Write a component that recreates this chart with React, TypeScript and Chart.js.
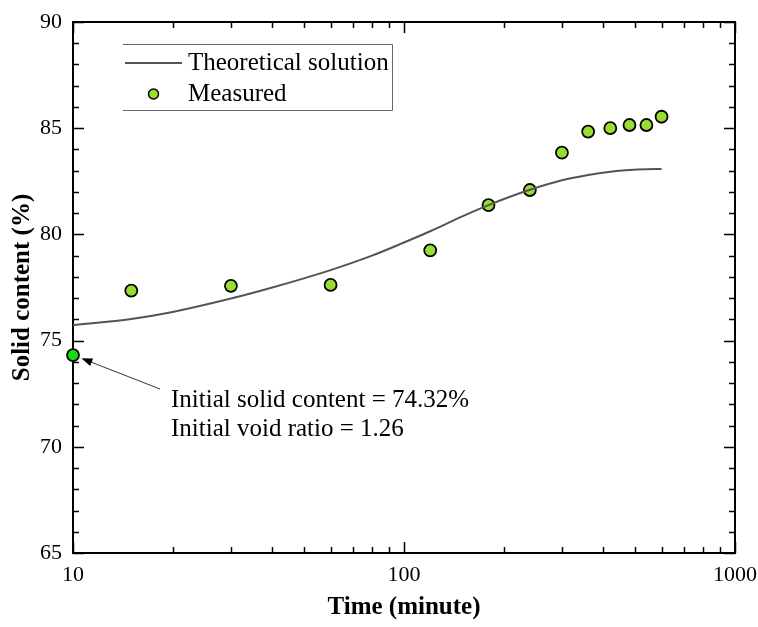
import React, { useEffect, useRef } from 'react';
import { Chart, registerables } from 'chart.js';

Chart.register(...registerables);

// ---- data ----
const curveTime = [10, 15, 20, 30, 40, 60, 80, 100, 120, 150, 180, 240, 300, 360, 420, 480, 540, 600];
const curveSolid = [75.73, 76.02, 76.35, 76.98, 77.5, 78.32, 79.0, 79.62, 80.15, 80.85, 81.38, 82.1, 82.55, 82.8, 82.95, 83.03, 83.07, 83.08];
const measuredTime = [15, 30, 60, 120, 180, 240, 300, 360, 420, 480, 540, 600];
const measuredSolid = [77.35, 77.58, 77.62, 79.25, 81.38, 82.09, 83.85, 84.84, 85.0, 85.15, 85.15, 85.54];
const initialTime = [10];
const initialSolid = [74.32];
const xMajorTicks = [10, 100, 1000];
const xMinorTicks = [20, 30, 40, 50, 60, 70, 80, 90, 200, 300, 400, 500, 600, 700, 800, 900];
const yMinorStep = 1;
const legendLabels = ['Theoretical solution', 'Measured'];
const annotationLines = ['Initial solid content = 74.32%', 'Initial void ratio = 1.26'];
const xTitle = 'Time (minute)';
const yTitle = 'Solid content (%)';

const FONT = '"Liberation Serif", "Times New Roman", serif';
const LINE_COLOR = '#555555';
const MEASURED_COLOR = '#99dd33';
const INITIAL_COLOR = '#11dd11';

const decorPlugin = {
  id: 'decor',
  beforeDatasetsDraw(chart: any) {
    const { ctx, chartArea: ca, scales } = chart;
    const xs = scales.x;
    const ys = scales.y;
    ctx.save();
    ctx.strokeStyle = '#000';
    ctx.lineWidth = 1.5;
    // y ticks
    for (let v = ys.min; v <= ys.max + 1e-9; v += yMinorStep) {
      const y = Math.round(ys.getPixelForValue(v)) + 0.5;
      const major = Math.abs(v % 5) < 1e-9;
      const len = major ? 11 : 6;
      ctx.beginPath();
      ctx.moveTo(ca.left, y);
      ctx.lineTo(ca.left + len, y);
      ctx.moveTo(ca.right, y);
      ctx.lineTo(ca.right - len, y);
      ctx.stroke();
    }
    const drawX = (v: number, len: number) => {
      const x = Math.round(xs.getPixelForValue(v)) + 0.5;
      ctx.beginPath();
      ctx.moveTo(x, ca.bottom);
      ctx.lineTo(x, ca.bottom - len);
      ctx.moveTo(x, ca.top);
      ctx.lineTo(x, ca.top + len);
      ctx.stroke();
    };
    xMajorTicks.forEach((v) => drawX(v, 11));
    xMinorTicks.forEach((v) => drawX(v, 6));
    // frame
    ctx.lineWidth = 2;
    ctx.strokeRect(ca.left, ca.top, ca.right - ca.left, ca.bottom - ca.top);
    ctx.restore();
  },
  afterDatasetsDraw(chart: any) {
    const { ctx, scales } = chart;
    const xs = scales.x;
    const ys = scales.y;
    ctx.save();
    // legend box (top, right, bottom)
    ctx.strokeStyle = '#666';
    ctx.lineWidth = 1;
    ctx.beginPath();
    ctx.moveTo(123, 44.5);
    ctx.lineTo(392.5, 44.5);
    ctx.lineTo(392.5, 110.5);
    ctx.lineTo(123, 110.5);
    ctx.stroke();
    // legend entries
    ctx.strokeStyle = LINE_COLOR;
    ctx.lineWidth = 2;
    ctx.beginPath();
    ctx.moveTo(125, 63);
    ctx.lineTo(182, 63);
    ctx.stroke();
    ctx.beginPath();
    ctx.arc(153.5, 94, 5, 0, Math.PI * 2);
    ctx.fillStyle = MEASURED_COLOR;
    ctx.fill();
    ctx.strokeStyle = '#000';
    ctx.lineWidth = 1.5;
    ctx.stroke();
    ctx.fillStyle = '#000';
    ctx.font = `25px ${FONT}`;
    ctx.textBaseline = 'middle';
    ctx.textAlign = 'left';
    ctx.fillText(legendLabels[0], 188, 63);
    ctx.fillText(legendLabels[1], 188, 94);

    // annotation arrow
    const px = xs.getPixelForValue(initialTime[0]);
    const py = ys.getPixelForValue(initialSolid[0]);
    const tailX = 160;
    const tailY = 389;
    const ang = Math.atan2(py - tailY, px - tailX);
    const tipX = px - Math.cos(ang) * 9;
    const tipY = py - Math.sin(ang) * 9;
    ctx.strokeStyle = '#333';
    ctx.lineWidth = 1;
    ctx.beginPath();
    ctx.moveTo(tailX, tailY);
    ctx.lineTo(tipX - Math.cos(ang) * 8, tipY - Math.sin(ang) * 8);
    ctx.stroke();
    ctx.fillStyle = '#000';
    ctx.beginPath();
    ctx.moveTo(tipX, tipY);
    ctx.lineTo(tipX - Math.cos(ang) * 11 + Math.sin(ang) * 4, tipY - Math.sin(ang) * 11 - Math.cos(ang) * 4);
    ctx.lineTo(tipX - Math.cos(ang) * 11 - Math.sin(ang) * 4, tipY - Math.sin(ang) * 11 + Math.cos(ang) * 4);
    ctx.closePath();
    ctx.fill();
    ctx.font = `25px ${FONT}`;
    ctx.fillText(annotationLines[0], 171, 400);
    ctx.fillText(annotationLines[1], 171, 429);
    ctx.restore();
  },
};

export default function App() {
  const ref = useRef<HTMLCanvasElement | null>(null);
  useEffect(() => {
    if (!ref.current) return;
    const chart = new Chart(ref.current, {
      type: 'scatter',
      data: {
        datasets: [
          {
            type: 'line',
            label: legendLabels[0],
            data: curveTime.map((t, i) => ({ x: t, y: curveSolid[i] })),
            borderColor: LINE_COLOR,
            borderWidth: 2,
            pointRadius: 0,
            cubicInterpolationMode: 'monotone',
            fill: false,
            clip: false,
          } as any,
          {
            label: legendLabels[1],
            data: measuredTime.map((t, i) => ({ x: t, y: measuredSolid[i] })),
            pointRadius: 6,
            pointBackgroundColor: MEASURED_COLOR,
            pointBorderColor: '#000',
            pointBorderWidth: 1.8,
            clip: false,
          } as any,
          {
            label: 'Initial',
            data: initialTime.map((t, i) => ({ x: t, y: initialSolid[i] })),
            pointRadius: 6,
            pointBackgroundColor: INITIAL_COLOR,
            pointBorderColor: '#000',
            pointBorderWidth: 1.8,
            clip: false,
          } as any,
        ],
      },
      options: {
        responsive: false,
        animation: false,
        layout: { padding: { top: 22, right: 23, left: 0, bottom: 0 } },
        plugins: { legend: { display: false }, tooltip: { enabled: false } },
        scales: {
          x: {
            type: 'logarithmic',
            min: 10,
            max: 1000,
            grid: { display: false, drawTicks: false },
            border: { display: false },
            ticks: {
              autoSkip: false,
              maxRotation: 0,
              padding: 9,
              color: '#000',
              font: { family: FONT, size: 22 },
              callback: (v: any) => {
                const r = Math.round(Number(v));
                return xMajorTicks.includes(r) && Math.abs(Number(v) - r) < 1e-6 ? String(r) : '';
              },
            },
            title: {
              display: true,
              text: xTitle,
              color: '#000',
              font: { family: FONT, size: 25, weight: 'bold' },
              padding: { top: 0, bottom: 4 },
            },
            afterFit: (s: any) => {
              s.height = 74;
              s.paddingLeft = 0;
              s.paddingRight = 0;
            },
          },
          y: {
            min: 65,
            max: 90,
            grid: { display: false, drawTicks: false },
            border: { display: false },
            ticks: {
              stepSize: 5,
              padding: 11,
              color: '#000',
              font: { family: FONT, size: 22 },
            },
            title: {
              display: true,
              text: yTitle,
              color: '#000',
              font: { family: FONT, size: 25, weight: 'bold' },
              padding: { top: 8, bottom: 0 },
            },
            afterFit: (s: any) => {
              s.width = 73;
              s.paddingTop = 0;
              s.paddingBottom = 0;
            },
          },
        },
      } as any,
      plugins: [decorPlugin],
    });
    return () => chart.destroy();
  }, []);
  return (
    <div style={{ position: 'fixed', left: 0, top: 0, width: 758, height: 627, background: '#fff' }}>
      <canvas ref={ref} width={758} height={627} style={{ width: 758, height: 627, display: 'block' }} />
    </div>
  );
}
